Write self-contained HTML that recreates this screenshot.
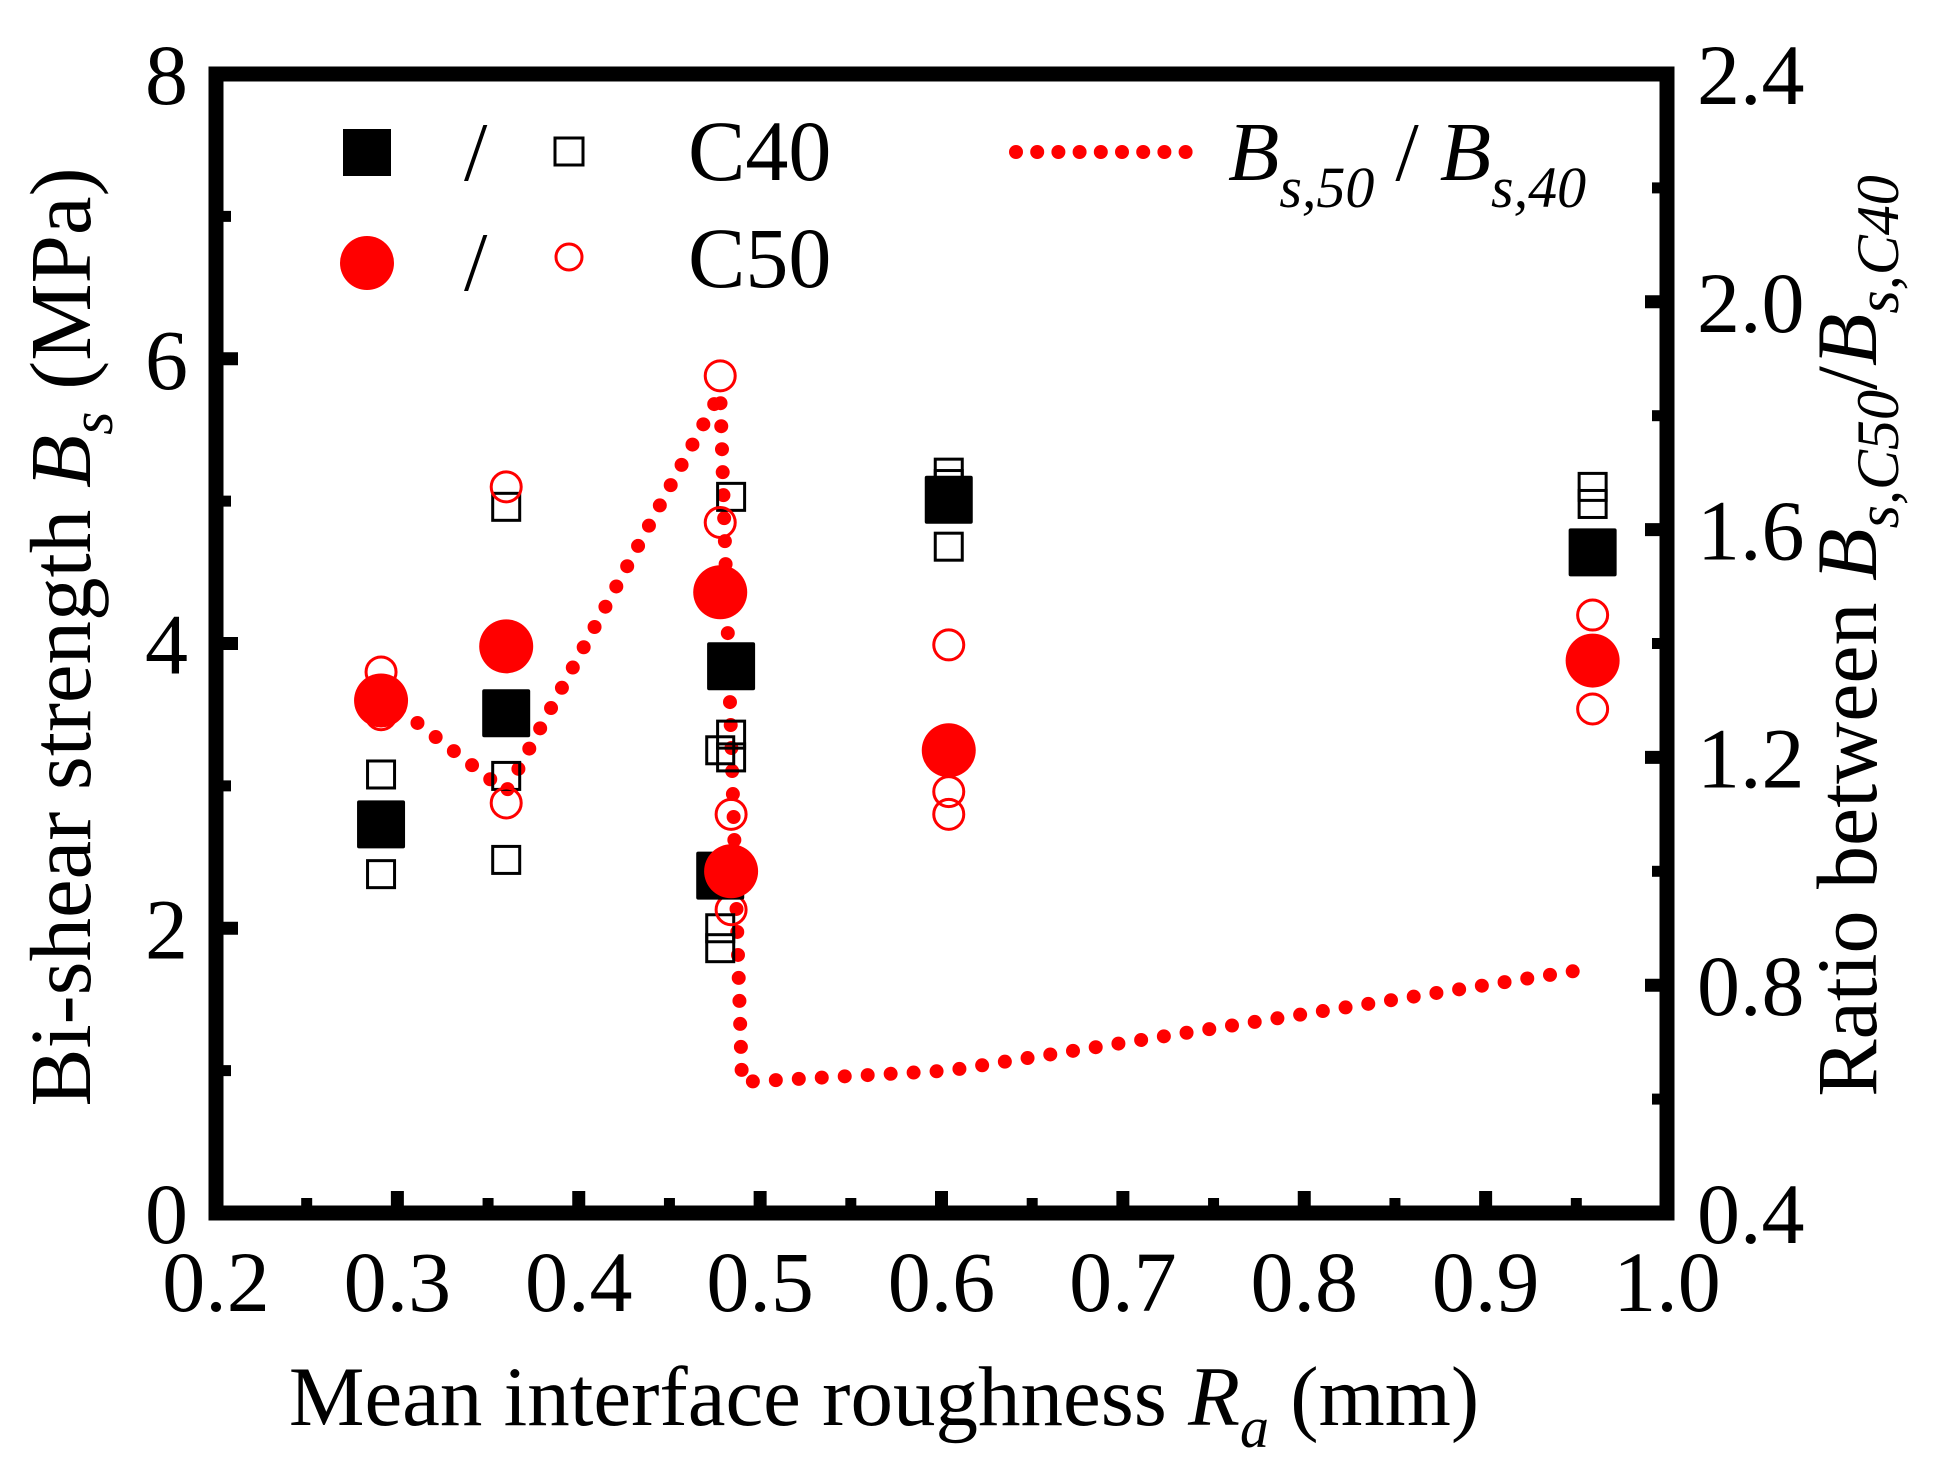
<!DOCTYPE html>
<html><head><meta charset="utf-8"><style>
html,body{margin:0;padding:0;background:#fff;}
svg{display:block;font-family:"Liberation Serif",serif;}
</style></head><body>
<svg id="chart" width="1939" height="1472" viewBox="0 0 1939 1472" xmlns="http://www.w3.org/2000/svg">
<g id="marks"></g>
<g id="axes"></g>
<g id="legend">
  <rect x="343" y="129" width="48" height="47" fill="#000"/>
  <text x="464" y="180" font-size="84">/</text>
  <rect x="555" y="138" width="28" height="27" fill="none" stroke="#000" stroke-width="3"/>
  <text x="688" y="180" font-size="86">C40</text>
  <circle cx="367" cy="263" r="27" fill="#f00"/>
  <text x="464" y="290" font-size="84">/</text>
  <circle cx="569" cy="257" r="13" fill="none" stroke="#f00" stroke-width="3"/>
  <text x="688" y="287" font-size="86">C50</text>
  <line x1="1016" y1="152" x2="1186" y2="152" stroke="#f00" stroke-width="14" stroke-linecap="round" stroke-dasharray="0 21.2"/>
  <text x="1228" y="180" font-size="84" font-style="italic">B<tspan font-size="58" dy="27">s,50</tspan><tspan dy="-27" font-style="normal"> / </tspan>B<tspan font-size="58" dy="27">s,40</tspan></text>
</g>
</svg>
<script>
const xTicks = [0.2,0.3,0.4,0.5,0.6,0.7,0.8,0.9,1.0];
const xTickLabels = ["0.2","0.3","0.4","0.5","0.6","0.7","0.8","0.9","1.0"];
const yTicks = [0,2,4,6,8];
const yTickLabels = ["0","2","4","6","8"];
const y2Ticks = [0.4,0.8,1.2,1.6,2.0,2.4];
const y2TickLabels = ["0.4","0.8","1.2","1.6","2.0","2.4"];
const c40AvgX = [0.291,0.360,0.484,0.478,0.604,0.959];
const c40AvgY = [2.73,3.51,3.84,2.37,5.01,4.64];
const c40RawX = [0.291,0.291,0.360,0.360,0.360,0.484,0.484,0.478,0.484,0.478,0.478,0.604,0.604,0.604,0.959,0.959];
const c40RawY = [3.08,2.38,4.96,3.07,2.48,5.03,3.36,3.25,3.20,2.00,1.86,5.20,5.12,4.68,5.10,4.98];
const c50AvgX = [0.291,0.360,0.478,0.484,0.604,0.959];
const c50AvgY = [3.60,3.98,4.36,2.40,3.25,3.88];
const c50RawX = [0.291,0.291,0.360,0.360,0.478,0.478,0.484,0.484,0.604,0.604,0.604,0.959,0.959];
const c50RawY = [3.80,3.50,5.10,2.88,5.88,4.85,2.80,2.13,3.99,2.96,2.80,4.20,3.54];
const ratioX = [0.291,0.360,0.478,0.490,0.604,0.959];
const ratioY = [1.31,1.14,1.84,0.63,0.65,0.83];

const NS="http://www.w3.org/2000/svg";
const X0=216,X1=1667,YT=74,YB=1213;
const sx=v=>X0+(v-0.2)/0.8*(X1-X0);
const sy=v=>YB-v/8*(YB-YT);
const sy2=v=>YB-(v-0.4)/2.0*(YB-YT);
function mk(tag,attrs,parent){const e=document.createElementNS(NS,tag);for(const k in attrs)e.setAttribute(k,attrs[k]);parent.appendChild(e);return e;}
const marks=document.getElementById('marks'), axes=document.getElementById('axes');

let d=ratioX.map((x,i)=>(i?'L':'M')+sx(x).toFixed(1)+','+sy2(ratioY[i]).toFixed(1)).join(' ');
const rl=mk('path',{d:d,fill:'none',stroke:'#f00','stroke-width':14,'stroke-linecap':'round','stroke-linejoin':'round','stroke-dasharray':'0 23'},marks);



c40RawX.forEach((x,i)=>{const e=mk('rect',{x:sx(x)-13.5,y:sy(c40RawY[i])-13.5,width:27,height:27,fill:'none',stroke:'#000','stroke-width':3},marks);

});
c50RawX.forEach((x,i)=>{const e=mk('circle',{cx:sx(x),cy:sy(c50RawY[i]),r:15,fill:'none',stroke:'#f00','stroke-width':3},marks);

});
c40AvgX.forEach((x,i)=>{const e=mk('rect',{x:sx(x)-24,y:sy(c40AvgY[i])-24,width:48,height:48,fill:'#000',rx:2},marks);

});
c50AvgX.forEach((x,i)=>{const e=mk('circle',{cx:sx(x),cy:sy(c50AvgY[i]),r:27,fill:'#f00'},marks);

});

const fr=mk('rect',{x:X0,y:YT,width:X1-X0,height:YB-YT,fill:'none',stroke:'#000','stroke-width':15},axes);


xTicks.forEach((v,i)=>{
  const t=mk('line',{x1:sx(v),x2:sx(v),y1:YB,y2:YB-22,stroke:'#000','stroke-width':13},axes);
  
  
  const l=mk('text',{x:sx(v),y:1311,'font-size':86,'text-anchor':'middle'},axes);l.textContent=xTickLabels[i];
  
  
});
for(let v=0.25;v<1;v+=0.1){const t=mk('line',{x1:sx(v),x2:sx(v),y1:YB,y2:YB-15,stroke:'#000','stroke-width':11},axes);

}
yTicks.forEach((v,i)=>{
  const t=mk('line',{x1:X0,x2:X0+22,y1:sy(v),y2:sy(v),stroke:'#000','stroke-width':13},axes);
  
  
  const l=mk('text',{x:188,y:sy(v)+30,'font-size':86,'text-anchor':'end'},axes);l.textContent=yTickLabels[i];
  
  
});
for(let v=1;v<8;v+=2){const t=mk('line',{x1:X0,x2:X0+15,y1:sy(v),y2:sy(v),stroke:'#000','stroke-width':11},axes);

}
y2Ticks.forEach((v,i)=>{
  const t=mk('line',{x1:X1,x2:X1-22,y1:sy2(v),y2:sy2(v),stroke:'#000','stroke-width':13},axes);
  
  
  const l=mk('text',{x:1697,y:sy2(v)+30,'font-size':86},axes);l.textContent=y2TickLabels[i];
  
  
});
for(let v=0.6;v<2.4;v+=0.4){const t=mk('line',{x1:X1,x2:X1-15,y1:sy2(v),y2:sy2(v),stroke:'#000','stroke-width':11},axes);

}

const xt=mk('text',{x:884,y:1425,'font-size':85,'text-anchor':'middle'},axes);
xt.innerHTML='Mean interface roughness <tspan font-style="italic">R</tspan><tspan font-style="italic" font-size="58" dy="22">a</tspan><tspan dy="-22"> (mm)</tspan>';


const yt=mk('text',{x:0,y:0,'font-size':87,'text-anchor':'middle',transform:'translate(90,637) rotate(-90)'},axes);
yt.innerHTML='Bi-shear strength <tspan font-style="italic">B</tspan><tspan font-style="italic" font-size="60" dy="22">s</tspan><tspan dy="-22"> (MPa)</tspan>';


const y2t=mk('text',{x:0,y:0,'font-size':86,'text-anchor':'middle',transform:'translate(1876,636) rotate(-90)'},axes);
y2t.innerHTML='Ratio between <tspan font-style="italic">B</tspan><tspan font-style="italic" font-size="60" dy="22">s,C50</tspan><tspan dy="-22">/</tspan><tspan font-style="italic">B</tspan><tspan font-style="italic" font-size="60" dy="22">s,C40</tspan>';


</script>
</body></html>
